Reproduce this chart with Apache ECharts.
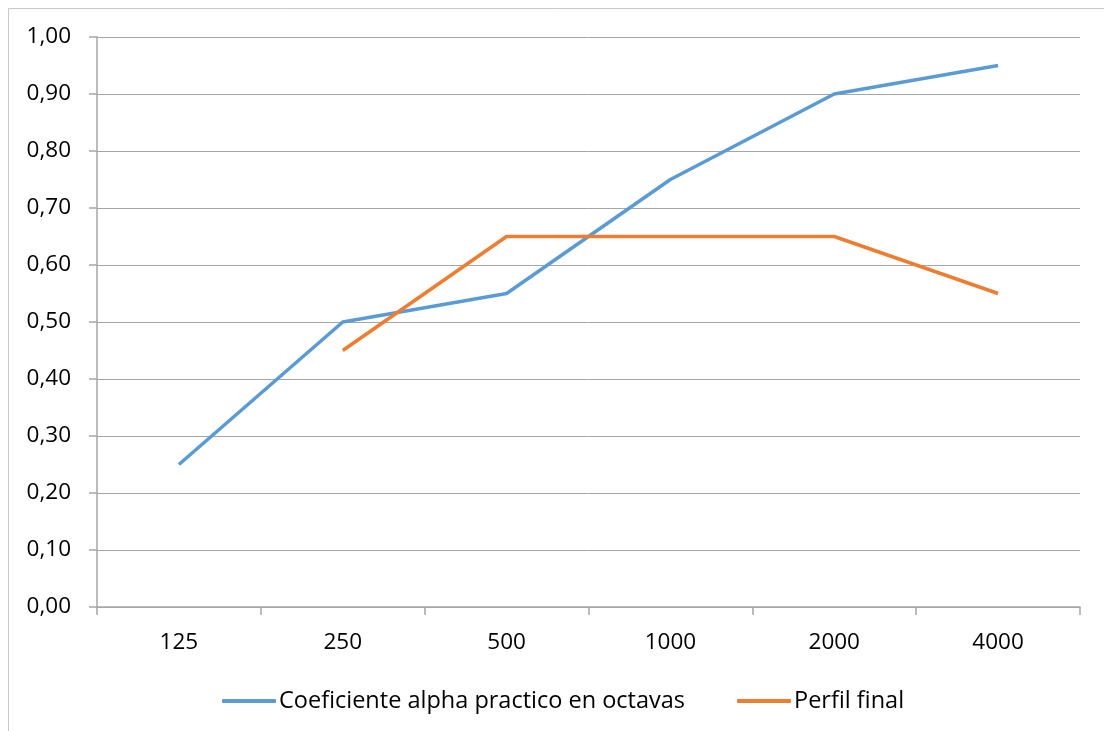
<!DOCTYPE html>
<html><head><meta charset="utf-8">
<script src="https://cdn.jsdelivr.net/npm/echarts@6/dist/echarts.min.js"></script>
<style>html,body{margin:0;padding:0;background:#fff}#c{width:1104px;height:731px}</style>
</head><body><div id="c"></div>
<script>
const categories = ['125','250','500','1000','2000','4000'];
const alphaPractico = [0.25, 0.50, 0.55, 0.75, 0.90, 0.95];
const perfilFinal = [null, 0.45, 0.65, 0.65, 0.65, 0.55];
const seriesNames = ['Coeficiente alpha practico en octavas','Perfil final'];

const chart = echarts.init(document.getElementById('c'));
const FONT = 'Open Sans';
const GRAY = '#a6a6a6';
chart.setOption({
  animation: false,
  graphic: [{type:'rect', shape:{x:8.5,y:8.5,width:1200,height:800}, style:{fill:'none', stroke:'#c8c8c8', lineWidth:1}, silent:true}],
  grid: {left:97, right:24, top:37, bottom:124},
  legend: {
    top: 684, left: 217, itemGap: 52, itemWidth: 54, itemHeight: 4,
    icon: 'roundRect',
    textStyle: {fontFamily: FONT, fontSize: 23.5, color:'#000', padding:[0,0,0,-2]},
    data: seriesNames
  },
  xAxis: {
    type:'category', data: categories, boundaryGap: true,
    axisLine:{lineStyle:{color:GRAY, width:1.5}},
    axisTick:{show:true, length:8, lineStyle:{color:GRAY, width:1.5}},
    axisLabel:{margin:24, fontFamily:FONT, fontSize:22.5, color:'#000'}
  },
  yAxis: {
    type:'value', min:0, max:1, interval:0.1,
    axisLine:{show:true, lineStyle:{color:GRAY, width:1.5}},
    axisTick:{show:true, length:8, lineStyle:{color:GRAY, width:1.5}},
    splitLine:{lineStyle:{color:GRAY, width:1}},
    axisLabel:{margin:26, fontFamily:FONT, fontSize:22.5, color:'#000',
      formatter: v => v.toFixed(2).replace('.', ',')}
  },
  series: [
    {name:seriesNames[0], type:'line', data:alphaPractico, symbol:'none', lineStyle:{color:'#5b9bd5', width:3.5}, itemStyle:{color:'#5b9bd5'}},
    {name:seriesNames[1], type:'line', data:perfilFinal, symbol:'none', lineStyle:{color:'#ed7d31', width:3.5}, itemStyle:{color:'#ed7d31'}}
  ]
});
</script></body></html>
